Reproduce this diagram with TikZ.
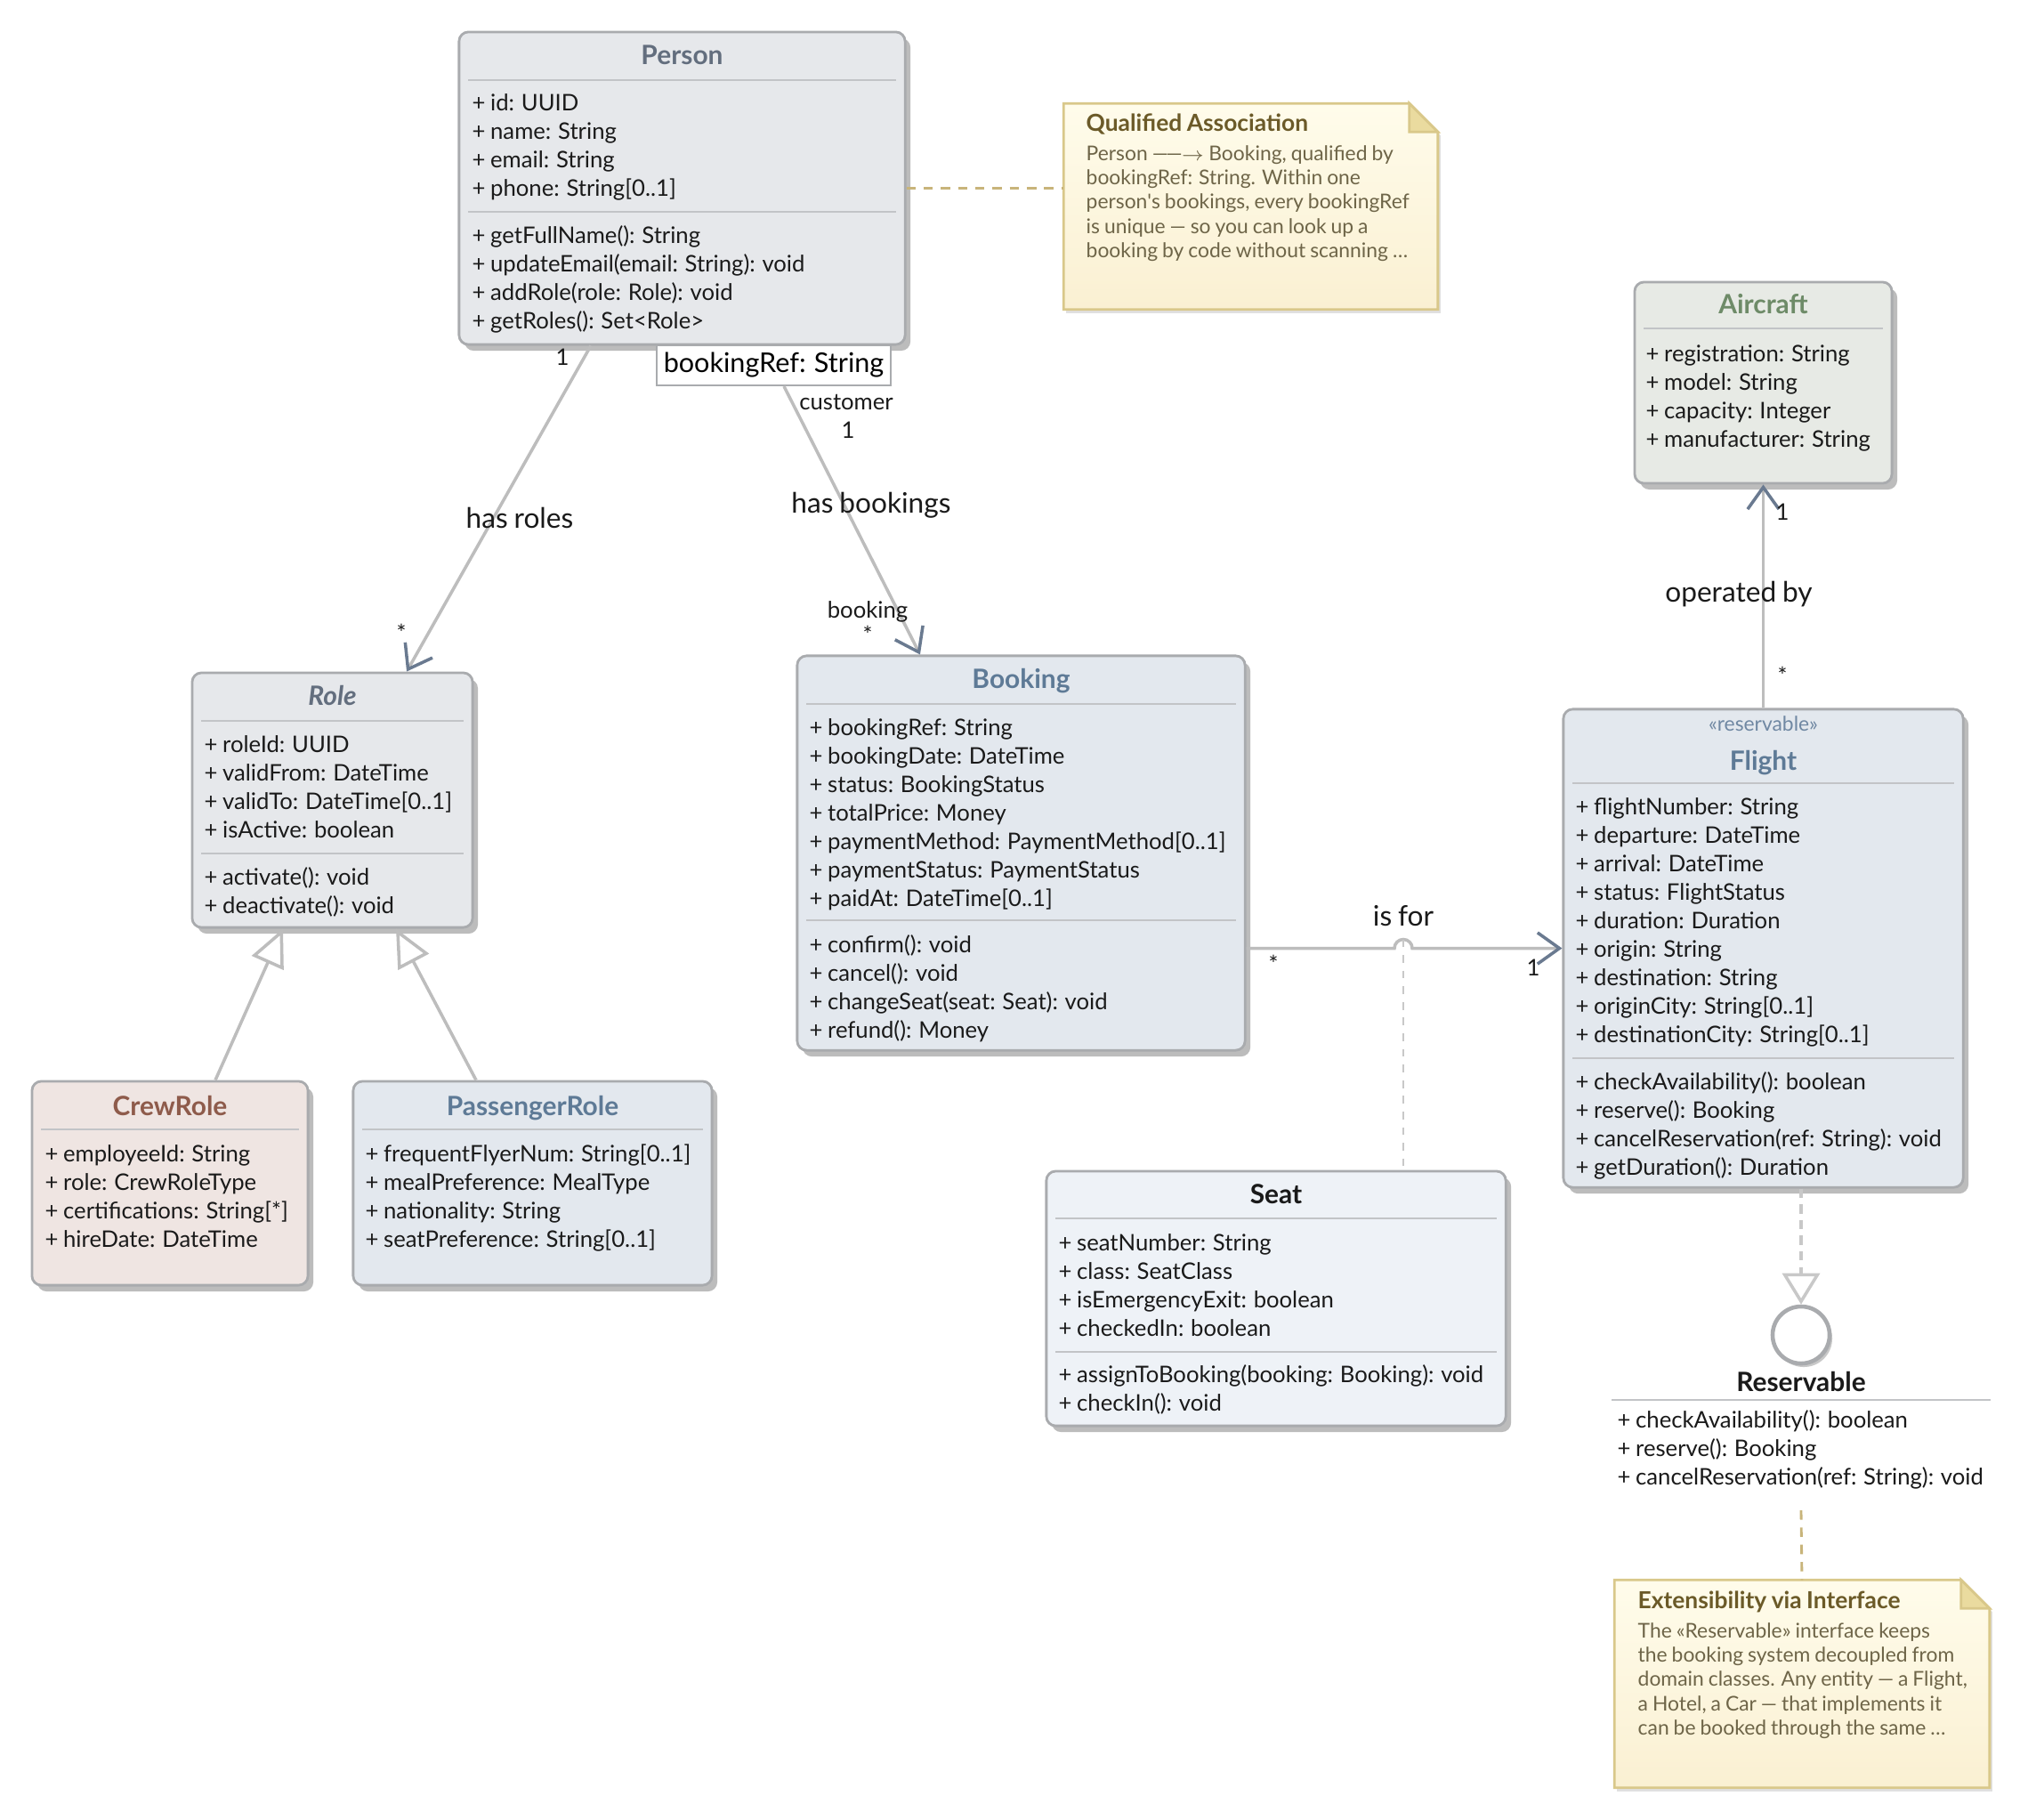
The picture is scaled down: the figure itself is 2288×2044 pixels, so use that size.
\documentclass[tikz,border=0pt]{standalone}
\usepackage{fontspec}
\setmainfont{Lato}[WordSpace=0.85]
\usetikzlibrary{arrows.meta, shadows}

\definecolor{ink}{HTML}{1A1A1A}
\definecolor{boxc}{HTML}{A9ABAE}
\definecolor{sepc}{HTML}{C2C4C7}
\definecolor{linec}{HTML}{BDBDBD}
\definecolor{tipc}{HTML}{6A7A90}
\definecolor{fillgray}{HTML}{E6E8EB}
\definecolor{fillblue}{HTML}{E3E8EE}
\definecolor{fillgreen}{HTML}{E7EAE5}
\definecolor{fillrose}{HTML}{EFE5E2}
\definecolor{fillseat}{HTML}{EEF2F7}
\definecolor{ttlslate}{HTML}{636E7E}
\definecolor{ttlblue}{HTML}{5E7A96}
\definecolor{ttlgreen}{HTML}{6E8B68}
\definecolor{ttlbrown}{HTML}{8E5B4B}
\definecolor{stereoc}{HTML}{7088A3}
\definecolor{notetop}{HTML}{FFFCEB}
\definecolor{notebot}{HTML}{FAF0D2}
\definecolor{noteborder}{HTML}{D9C88A}
\definecolor{notefoldc}{HTML}{EADB9F}
\definecolor{notettl}{HTML}{6B5A28}
\definecolor{notetxt}{HTML}{6E6548}
\definecolor{notelinkc}{HTML}{C8B47A}
\definecolor{dashc}{HTML}{C8C8C8}

\begin{document}
\begin{tikzpicture}[x=0.01cm, y=-0.01cm, font=\fontsize{7.3}{9}\selectfont,
  cls/.style={draw=boxc, line width=0.8pt, rounded corners=3pt, inner sep=0pt,
    drop shadow={shadow xshift=0.06cm, shadow yshift=-0.07cm, opacity=0.35, fill=black!75}},
  ttl/.style={anchor=base, inner sep=0pt, font=\fontsize{8.5}{10}\selectfont\bfseries},
  mem/.style={anchor=base west, inner sep=0pt, text=ink},
  sepl/.style={draw=sepc, line width=0.8pt},
  lbl/.style={inner sep=0pt, font=\fontsize{9}{11}\selectfont, text=ink},
  mult/.style={inner sep=0pt, text=ink},
  assoc/.style={draw=linec, line width=1pt},
  navtip/.style={-{Straight Barb[length=7pt, width=10pt, line width=1pt, color=tipc]}},
  gen/.style={draw=linec, line width=1pt, -{Triangle[open, fill=white, length=12pt, width=11pt, line width=1pt]}},
  realize/.style={draw=dashc, line width=1.2pt, dash pattern=on 3pt off 2pt,
    -{Triangle[open, fill=white, length=10pt, width=12pt, line width=1pt, color=dashc]}},
  acdash/.style={draw=dashc, line width=0.8pt, dash pattern=on 2.5pt off 2.5pt},
  notebox/.style={draw=none, inner sep=0pt},
  noteedge/.style={draw=noteborder, line width=0.8pt, top color=notetop, bottom color=notebot,
    drop shadow={shadow xshift=0.03cm, shadow yshift=-0.04cm, opacity=0.12, fill=black}},
  notefold/.style={draw=noteborder, line width=0.8pt, fill=notefoldc},
  notelink/.style={draw=notelinkc, line width=0.8pt, dash pattern=on 3pt off 2.5pt},
  ntitle/.style={anchor=base west, inner sep=0pt, text=notettl, font=\fontsize{7.5}{9}\selectfont\bfseries},
  nbody/.style={anchor=base west, inner sep=0pt, text=notetxt, font=\fontsize{6.5}{8}\selectfont}]

\useasboundingbox[fill=white] (0,0) rectangle (2288,2044);

% ---------------------------------------------------------------
% classes
% ---------------------------------------------------------------
\node[cls, fill=fillgray, minimum width=5.01cm, minimum height=3.51cm] (person) at (766.5,211.5) {};
\node[ttl, text=ttlslate] (persont) at (766.5,72) {Person};
\draw[sepl] (526,90) -- (1007,90);
\draw[sepl] (526,238) -- (1007,238);
\foreach \t [count=\i] in {+ id: UUID, + name: String, + email: String, + phone: String[0..1]}
  \node[mem] (pa\i) at (530,{92+32*\i}) {\t};
\foreach \t [count=\i] in {+ getFullName(): String, + updateEmail(email: String): void,
    + addRole(role: Role): void, + getRoles(): Set<Role>}
  \node[mem] (pm\i) at (530,{241+32*\i}) {\t};

\node[draw=boxc, fill=white, line width=0.6pt, inner sep=0pt, minimum width=2.63cm, minimum height=0.45cm,
  font=\fontsize{8.7}{11}\selectfont] (qual) at (869.5,410.5) {bookingRef: String};

\node[cls, fill=fillgreen, minimum width=2.89cm, minimum height=2.26cm] (aircraft) at (1981.5,430) {};
\node[ttl, text=ttlgreen] (aircraftt) at (1981.5,352) {Aircraft};
\draw[sepl] (1847,369) -- (2116,369);
\foreach \t [count=\i] in {+ registration: String, + model: String, + capacity: Integer, + manufacturer: String}
  \node[mem] (aa\i) at (1849,{374+32*\i}) {\t};

\node[cls, fill=fillgray, minimum width=3.15cm, minimum height=2.86cm] (role) at (373.5,899) {};
\node[ttl, text=ttlslate, font=\fontsize{8.5}{10}\selectfont\bfseries\itshape] (rolet) at (373.5,792) {Role};
\draw[sepl] (226,810) -- (521,810);
\draw[sepl] (226,959) -- (521,959);
\foreach \t [count=\i] in {+ roleId: UUID, + validFrom: DateTime, + validTo: DateTime[0..1], + isActive: boolean}
  \node[mem] (ra\i) at (229,{813+32*\i}) {\t};
\foreach \t [count=\i] in {+ activate(): void, + deactivate(): void}
  \node[mem] (rm\i) at (229,{962+32*\i}) {\t};

\node[cls, fill=fillblue, minimum width=5.03cm, minimum height=4.43cm] (booking) at (1147.5,958.5) {};
\node[ttl, text=ttlblue] (bookingt) at (1147.5,773) {Booking};
\draw[sepl] (906,791) -- (1389,791);
\draw[sepl] (906,1034) -- (1389,1034);
\foreach \t [count=\i] in {+ bookingRef: String, + bookingDate: DateTime, + status: BookingStatus,
    + totalPrice: Money, + paymentMethod: PaymentMethod[0..1], + paymentStatus: PaymentStatus,
    + paidAt: DateTime[0..1]}
  \node[mem] (ba\i) at (909,{794+32*\i}) {\t};
\foreach \t [count=\i] in {+ confirm(): void, + cancel(): void, + changeSeat(seat: Seat): void, + refund(): Money}
  \node[mem] (bm\i) at (909,{1038+32*\i}) {\t};

\node[cls, fill=fillblue, minimum width=4.49cm, minimum height=5.37cm] (flight) at (1981.5,1065.5) {};
\node[anchor=base, inner sep=0pt, text=stereoc, font=\fontsize{6.5}{8}\selectfont] (flights) at (1981.5,821) {«reservable»};
\node[ttl, text=ttlblue] (flightt) at (1981.5,865) {Flight};
\draw[sepl] (1767,880) -- (2196,880);
\draw[sepl] (1767,1189) -- (2196,1189);
\foreach \t [count=\i] in {+ flightNumber: String, + departure: DateTime, + arrival: DateTime,
    + status: FlightStatus, + duration: Duration, + origin: String, + destination: String,
    + originCity: String[0..1], + destinationCity: String[0..1]}
  \node[mem] (fa\i) at (1770,{883+32*\i}) {\t};
\foreach \t [count=\i] in {+ checkAvailability(): boolean, + reserve(): Booking,
    + cancelReservation(ref: String): void, + getDuration(): Duration}
  \node[mem] (fm\i) at (1770,{1192+32*\i}) {\t};

\node[cls, fill=fillrose, minimum width=3.10cm, minimum height=2.29cm] (crew) at (191,1329.5) {};
\node[ttl, text=ttlbrown] (crewt) at (191,1253) {CrewRole};
\draw[sepl] (46,1269) -- (336,1269);
\foreach \t [count=\i] in {+ employeeId: String, + role: CrewRoleType, + certifications: String[*], + hireDate: DateTime}
  \node[mem] (ca\i) at (50,{1273+32*\i}) {\t};

\node[cls, fill=fillblue, minimum width=4.03cm, minimum height=2.29cm] (passenger) at (598.5,1329.5) {};
\node[ttl, text=ttlblue] (passengert) at (598.5,1253) {PassengerRole};
\draw[sepl] (407,1269) -- (790,1269);
\foreach \t [count=\i] in {+ frequentFlyerNum: String[0..1], + mealPreference: MealType,
    + nationality: String, + seatPreference: String[0..1]}
  \node[mem] (sa\i) at (410,{1273+32*\i}) {\t};

\node[cls, fill=fillseat, minimum width=5.16cm, minimum height=2.86cm] (seat) at (1434,1459) {};
\node[ttl, text=ink] (seatt) at (1434,1352) {Seat};
\draw[sepl] (1186,1369) -- (1682,1369);
\draw[sepl] (1186,1519) -- (1682,1519);
\foreach \t [count=\i] in {+ seatNumber: String, + class: SeatClass, + isEmergencyExit: boolean, + checkedIn: boolean}
  \node[mem] (ta\i) at (1189,{1373+32*\i}) {\t};
\foreach \t [count=\i] in {+ assignToBooking(booking: Booking): void, + checkIn(): void}
  \node[mem] (tm\i) at (1189,{1521+32*\i}) {\t};

% interface, lollipop form
\node[circle, draw=boxc, line width=1.3pt, fill=white, minimum size=0.64cm, inner sep=0pt,
  drop shadow={shadow xshift=0.03cm, shadow yshift=-0.04cm, opacity=0.3, fill=black!70}] (reservable) at (2024,1500) {};
\node[ttl, text=ink] (reservablet) at (2024,1563) {Reservable};
\draw[sepl] (1811,1573) -- (2237,1573);
\foreach \t [count=\i] in {+ checkAvailability(): boolean, + reserve(): Booking, + cancelReservation(ref: String): void}
  \node[mem] (ia\i) at (1817,{1572+32*\i}) {\t};

% ---------------------------------------------------------------
% notes
% ---------------------------------------------------------------
\node[notebox, minimum width=4.19cm, minimum height=2.30cm] (qnote) at (1405.5,232) {};
\draw[noteedge] (qnote.south west) -- (qnote.north west) -- ([xshift=-0.32cm]qnote.north east)
  -- ([yshift=-0.32cm]qnote.north east) -- (qnote.south east) -- cycle;
\draw[notefold] ([xshift=-0.32cm]qnote.north east) -- ([xshift=-0.32cm,yshift=-0.32cm]qnote.north east)
  -- ([yshift=-0.32cm]qnote.north east) -- cycle;
\node[ntitle] (qnotet) at (1220,147) {Qualified Association};
\foreach \t [count=\i] in {{Person —\kern-.1em—\kern-.05em$\rightarrow$ Booking, qualified by}, {bookingRef: String. Within one},
    {person\textquotesingle s bookings, every bookingRef}, {is unique — so you can look up a}, {booking by code without scanning …}}
  \node[nbody] (qn\i) at (1220,{153+27.3*\i}) {\t};

\node[notebox, minimum width=4.20cm, minimum height=2.32cm] (enote) at (2025,1892) {};
\draw[noteedge] (enote.south west) -- (enote.north west) -- ([xshift=-0.32cm]enote.north east)
  -- ([yshift=-0.32cm]enote.north east) -- (enote.south east) -- cycle;
\draw[notefold] ([xshift=-0.32cm]enote.north east) -- ([xshift=-0.32cm,yshift=-0.32cm]enote.north east)
  -- ([yshift=-0.32cm]enote.north east) -- cycle;
\node[ntitle] (enotet) at (1840,1807) {Extensibility via Interface};
\foreach \t [count=\i] in {{The «Reservable» interface keeps}, {the booking system decoupled from},
    {domain classes. Any entity — a Flight,}, {a Hotel, a Car — that implements it}, {can be booked through the same …}}
  \node[nbody] (en\i) at (1840,{1813+27.3*\i}) {\t};

% ---------------------------------------------------------------
% connectors
% ---------------------------------------------------------------
\draw[notelink] (person.east) -- (person.east -| qnote.west);
\coordinate (restail) at (2024,1697);
\draw[notelink] (restail) -- (enote.north);

% has roles
\draw[assoc, navtip] ([xshift=-1.025cm]person.south) -- ([xshift=0.835cm]role.north);
\node[mult] (hr1) at (632,401) {1};
\node[mult] (hr2) at (451,711) {*};
\node[lbl] (hrl) at (584,582) {has roles};

% has bookings (qualified)
\draw[assoc, navtip] ([xshift=0.115cm]qual.south) -- ([xshift=-1.135cm]booking.north);
\node[mult] (hb1) at (951,452) {customer};
\node[mult] (hb2) at (953,483) {1};
\node[lbl] (hbl) at (979,568) {has bookings};
\node[mult] (hb3) at (975,687) {booking};
\node[mult] (hb4) at (975,713) {*};

% is for, with Seat as association class
\coordinate (hop) at (1577,1065.5);
\draw[assoc, navtip] (booking.east |- flight.west) -- ([xshift=-0.1cm]hop)
  arc[start angle=180, end angle=0, radius=0.1cm] -- (flight.west);
\draw[acdash] ([yshift=0.1cm]hop) -- (hop |- seat.north);
\node[lbl] (ifl) at (1577,1029) {is for};
\node[mult] (if1) at (1431,1083) {*};
\node[mult] (if2) at (1723,1087) {1};

% operated by
\draw[assoc, navtip] (flight.north) -- (aircraft.south);
\node[mult] (ob1) at (2003,575) {1};
\node[lbl] (obl) at (1954,668) {operated by};
\node[mult] (ob2) at (2003,759) {*};

% generalisation
\draw[gen] ([xshift=0.51cm]crew.north) -- ([xshift=-0.555cm]role.south);
\draw[gen] ([xshift=-0.635cm]passenger.north) -- ([xshift=0.715cm]role.south);

% realisation
\draw[realize] (reservable |- flight.south) -- (reservable.north);

\end{tikzpicture}
\end{document}
